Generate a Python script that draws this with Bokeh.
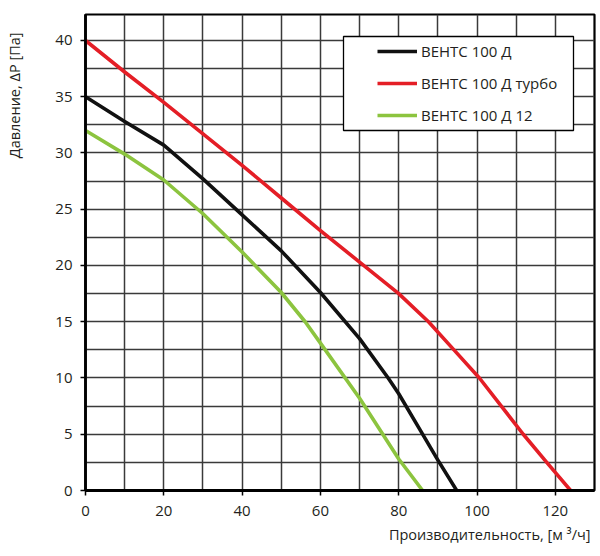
from bokeh.plotting import figure
from bokeh.models import Range1d, FixedTicker, Legend, LegendItem, Title, BoxAnnotation
from bokeh.embed import file_html
from bokeh.resources import INLINE

# ---- data ----
series_names = ["ВЕНТС 100 Д", "ВЕНТС 100 Д турбо", "ВЕНТС 100 Д 12"]

flow_std = [0, 10, 20, 30, 40, 50, 60, 70, 77.3, 80, 85.6, 90, 94.8]
pres_std = [35, 32.8, 30.7, 27.7, 24.5, 21.3, 17.6, 13.5, 10.0, 8.6, 5.3, 2.7, 0]

flow_turbo = [0, 10, 20, 30, 40, 50, 60, 70, 80, 87.6, 94.1, 100.6, 106.2, 111.8, 117.8, 123.9]
pres_turbo = [40, 37.2, 34.5, 31.7, 28.9, 26.0, 23.1, 20.3, 17.5, 15, 12.5, 10, 7.5, 5, 2.5, 0]

flow_12 = [0, 10, 20, 30, 40, 50, 56.1, 60, 70, 80, 86.1]
pres_12 = [32, 29.9, 27.6, 24.6, 21.2, 17.6, 15, 13.1, 8.2, 2.8, 0]

x_ticks = [0, 20, 40, 60, 80, 100, 120]
y_ticks = [0, 5, 10, 15, 20, 25, 30, 35, 40]
x_grid = list(range(0, 131, 10))
y_grid = [i * 2.5 for i in range(18)]

x_label = "Производительность, [м ³/ч]"
y_label = "Давление, ΔP [Па]"

# ---- styling ----
FONT = "Open Sans"
TXT = "#231f20"
colors = ["#111111", "#e41e26", "#8cc43f"]

p = figure(width=600, height=556, output_backend="svg", toolbar_location=None,
           x_range=Range1d(0, 130.0), y_range=Range1d(0, 42.31),
           min_border_left=85, min_border_right=6, min_border_top=14, min_border_bottom=66)
p.background_fill_color = "white"
p.border_fill_color = "white"
p.outline_line_color = "black"
p.outline_line_width = 2.2

p.xgrid.ticker = FixedTicker(ticks=x_grid)
p.ygrid.ticker = FixedTicker(ticks=y_grid)
for g in (p.xgrid, p.ygrid):
    g.grid_line_color = "#3a3a3a"
    g.grid_line_width = 1.5

p.xaxis.ticker = FixedTicker(ticks=x_ticks)
p.yaxis.ticker = FixedTicker(ticks=y_ticks)
for ax in (p.xaxis, p.yaxis):
    ax.axis_line_color = "black"
    ax.axis_line_width = 2.8
    ax.major_tick_out = 5
    ax.major_tick_in = 0
    ax.major_tick_line_width = 1.5
    ax.major_tick_line_color = "black"
    ax.minor_tick_out = 0
    ax.minor_tick_in = 0
    ax.major_label_text_font = FONT
    ax.major_label_text_font_size = "15px"
    ax.major_label_text_color = TXT
p.xaxis.major_label_standoff = 10
p.yaxis.major_label_standoff = 8

r_std = p.line(flow_std, pres_std, line_color=colors[0], line_width=3.6, line_join="round")
r_turbo = p.line(flow_turbo, pres_turbo, line_color=colors[1], line_width=3.6, line_join="round")
r_12 = p.line(flow_12, pres_12, line_color=colors[2], line_width=3.6, line_join="round")

spacer = Title(text=" ", standoff=7, text_font=FONT, text_font_size="14.5px")
p.add_layout(spacer, "left")
ylab = Title(text=y_label, align="right", offset=18, standoff=2,
             text_font=FONT, text_font_size="14.5px", text_font_style="normal", text_color=TXT)
p.add_layout(ylab, "left")
xlab = Title(text=x_label, align="right", offset=4, standoff=8,
             text_font=FONT, text_font_size="14.5px", text_font_style="normal", text_color=TXT)
p.add_layout(xlab, "below")

box = BoxAnnotation(left=258, right=488, top=454, bottom=360,
                    left_units="screen", right_units="screen",
                    top_units="screen", bottom_units="screen",
                    fill_color="white", fill_alpha=1.0,
                    line_color="black", line_width=1.3, line_alpha=1.0)
p.add_layout(box)

legend = Legend(items=[LegendItem(label=series_names[0], renderers=[r_std]),
                       LegendItem(label=series_names[1], renderers=[r_turbo]),
                       LegendItem(label=series_names[2], renderers=[r_12])],
                location=(288, 357), padding=4, spacing=4, margin=0,
                glyph_width=40, glyph_height=28, label_height=28, label_standoff=4,
                label_text_font=FONT, label_text_font_size="15px", label_text_color=TXT,
                border_line_alpha=0, background_fill_alpha=0)
p.add_layout(legend)

open("out.html", "w").write(file_html(p, INLINE))
